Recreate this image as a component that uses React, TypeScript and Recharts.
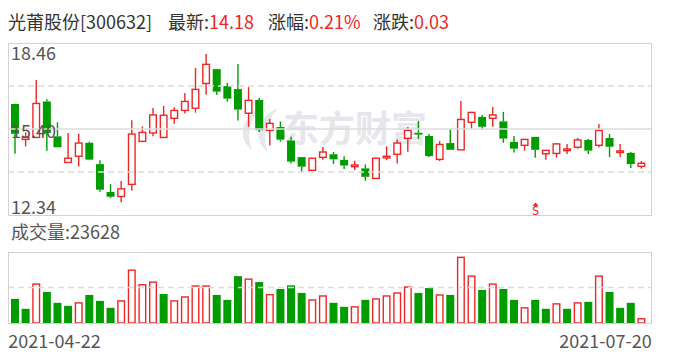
import React from 'react';
import { ComposedChart, Bar, XAxis, YAxis, ReferenceLine, ReferenceDot } from 'recharts';

// ---------- data ----------
const stockName = '光莆股份';
const stockCode = '300632';
const latestPrice = '14.18';
const changePct = '0.21%';
const changeAmt = '0.03';

const dates = [
  '2021-04-22', '2021-04-23', '2021-04-26', '2021-04-27', '2021-04-28', '2021-04-29', '2021-04-30',
  '2021-05-06', '2021-05-07', '2021-05-10', '2021-05-11', '2021-05-12', '2021-05-13', '2021-05-14',
  '2021-05-17', '2021-05-18', '2021-05-19', '2021-05-20', '2021-05-21', '2021-05-24', '2021-05-25',
  '2021-05-26', '2021-05-27', '2021-05-28', '2021-05-31', '2021-06-01', '2021-06-02', '2021-06-03',
  '2021-06-04', '2021-06-07', '2021-06-08', '2021-06-09', '2021-06-10', '2021-06-11', '2021-06-15',
  '2021-06-16', '2021-06-17', '2021-06-18', '2021-06-21', '2021-06-22', '2021-06-23', '2021-06-24',
  '2021-06-25', '2021-06-28', '2021-06-29', '2021-06-30', '2021-07-01', '2021-07-02', '2021-07-05',
  '2021-07-06', '2021-07-07', '2021-07-08', '2021-07-09', '2021-07-12', '2021-07-13', '2021-07-14',
  '2021-07-15', '2021-07-16', '2021-07-19', '2021-07-20',
];

const opens = [
  16.29, 15.03, 15.10, 16.38, 15.14, 14.21, 14.43, 14.91, 14.15, 13.16,
  13.00, 13.43, 14.96, 15.26, 15.10, 15.78, 16.06, 16.14, 17.02, 17.53,
  16.93, 16.82, 15.96, 16.43, 15.35, 15.47, 14.99, 14.40, 13.93, 14.39,
  14.50, 14.30, 14.06, 14.00, 13.64, 14.37, 14.50, 15.07, 15.26, 15.15,
  14.32, 14.90, 14.66, 15.64, 15.83, 15.78, 15.67, 14.94, 14.82, 15.12,
  14.52, 14.53, 14.63, 14.75, 15.01, 14.82, 15.08, 14.59, 14.55, 14.07,
];
const highs = [
  16.30, 15.28, 17.14, 16.46, 15.64, 15.26, 15.23, 14.95, 14.29, 13.44,
  13.55, 15.71, 15.49, 16.15, 16.22, 16.17, 16.68, 17.57, 18.07, 17.53,
  17.04, 17.71, 16.89, 16.50, 15.76, 15.67, 15.12, 14.40, 14.36, 14.76,
  14.58, 14.43, 14.27, 14.14, 14.36, 14.78, 15.03, 15.47, 15.69, 15.22,
  14.97, 15.40, 16.40, 15.99, 15.90, 16.18, 16.01, 15.15, 15.03, 15.12,
  14.64, 14.90, 14.87, 15.08, 15.04, 15.58, 15.22, 14.87, 14.58, 14.26,
];
const lows = [
  14.52, 14.78, 15.10, 14.63, 14.75, 14.21, 14.07, 14.29, 13.17, 12.94,
  12.79, 13.21, 14.93, 15.14, 15.10, 15.59, 15.95, 15.98, 16.62, 16.62,
  16.37, 15.70, 15.48, 15.29, 14.81, 14.95, 14.17, 13.85, 13.89, 14.31,
  14.15, 13.98, 13.94, 13.56, 13.64, 14.29, 14.17, 14.59, 15.04, 14.40,
  14.26, 14.66, 14.66, 15.41, 15.38, 15.48, 14.91, 14.56, 14.63, 14.38,
  14.31, 14.38, 14.51, 14.70, 14.51, 14.74, 14.40, 14.40, 14.01, 13.99,
];
const closes = [
  15.23, 15.10, 16.31, 15.26, 14.75, 14.36, 14.90, 14.31, 13.24, 12.99,
  13.27, 15.22, 15.28, 15.90, 15.89, 16.06, 16.38, 16.81, 17.70, 16.73,
  16.48, 16.09, 16.42, 15.36, 15.60, 15.02, 14.24, 14.06, 14.36, 14.58,
  14.32, 14.10, 14.12, 13.70, 14.36, 14.43, 14.90, 15.35, 15.23, 14.44,
  14.85, 14.66, 15.74, 15.99, 15.48, 15.90, 15.06, 14.70, 15.03, 14.66,
  14.64, 14.87, 14.69, 15.01, 14.63, 15.35, 14.77, 14.62, 14.15, 14.18,
];

const volumes = [
  115400, 68000, 189700, 148600, 96500, 82200, 99600, 134400, 105900, 72700,
  109100, 256200, 186600, 199200, 139100, 109100, 128100, 180300, 180300, 134400,
  110700, 224500, 213400, 196000, 139100, 162800, 180300, 143900, 113800, 132800,
  96500, 77500, 80600, 110700, 118600, 132800, 147000, 175500, 143900, 167600,
  137500, 134400, 317800, 227700, 158100, 189700, 162800, 110700, 75900, 110700,
  68000, 94900, 68000, 99600, 101200, 227700, 148600, 72700, 96500, 23628,
];
// 1 = close above previous close (red hollow bar), 0 = below (green bar)
const volumeUp = [
  0, 0, 1, 0, 0, 0, 1, 0, 0, 0,
  1, 1, 1, 1, 0, 1, 1, 1, 1, 0,
  0, 0, 1, 0, 1, 0, 0, 0, 1, 1,
  0, 0, 1, 0, 1, 1, 1, 1, 0, 0,
  1, 0, 1, 1, 0, 1, 0, 0, 1, 0,
  0, 1, 0, 1, 0, 1, 0, 0, 0, 1,
];

const priceMin = 12.34;
const priceMax = 18.46;
const priceMid = 15.40;
const priceTicks = [priceMin, priceMid, priceMax];
const volumeMax = 340000;
const signals = [{ date: '2021-07-06', label: 'S' }];

// ---------- styling ----------
const RED = '#f02626';
const GREEN = '#009c00';
const GRID = '#dcdcdc';
const FRAME = '#d2d2d2';
const LABEL = '#555555';
const FONT = "'Noto Sans CJK SC', 'Microsoft YaHei', sans-serif";

const rows = dates.map((d, i) => ({
  date: d,
  open: opens[i],
  high: highs[i],
  low: lows[i],
  close: closes[i],
  volume: volumes[i],
  up: volumeUp[i] === 1,
}));

function CandleShape(props: any) {
  const { x, y, width, height, payload } = props;
  if (!payload || x == null) return null;
  const { open, close, high, low } = payload;
  const top = Math.min(y, y + height);
  const h = Math.abs(height);
  const k = h / (high - low);
  const py = (v: number) => top + (high - v) * k;
  const cx = x + width / 2;
  const up = close >= open;
  const c = up ? RED : GREEN;
  const bTop = py(Math.max(open, close));
  const bBot = py(Math.min(open, close));
  const bh = Math.max(bBot - bTop, 1.6);
  return (
    <g>
      <line x1={cx} x2={cx} y1={py(high)} y2={bTop} stroke={c} strokeWidth={1.4} />
      <line x1={cx} x2={cx} y1={bTop + bh} y2={py(low)} stroke={c} strokeWidth={1.4} />
      {up ? (
        <rect x={x + 0.7} y={bTop} width={width - 1.4} height={bh} fill="#fff" stroke={c} strokeWidth={1.4} />
      ) : (
        <rect x={x} y={bTop} width={width} height={bh} fill={c} />
      )}
    </g>
  );
}

function VolumeShape(props: any) {
  const { x, y, width, height, payload } = props;
  if (!payload || x == null) return null;
  const top = Math.min(y, y + height);
  const h = Math.abs(height);
  if (payload.up) {
    return <rect x={x + 0.7} y={top + 0.7} width={width - 1.4} height={Math.max(h - 0.7, 0)} fill="#fff" stroke={RED} strokeWidth={1.4} />;
  }
  return <rect x={x} y={top} width={width} height={h} fill={GREEN} />;
}

function PriceTick(props: any) {
  const { y, payload } = props;
  const v = Number(payload.value);
  let dy = 9;
  if (Math.abs(v - priceMax) < 1e-6) dy = 17;
  else if (Math.abs(v - priceMin) < 1e-6) dy = -1;
  return (
    <text x={11} y={y + dy} fill={LABEL} fontSize={18} fontFamily={FONT} textAnchor="start">
      {v.toFixed(2)}
    </text>
  );
}

function DateTick(props: any) {
  const { x, y, payload } = props;
  const isFirst = payload.value === dates[0];
  return (
    <text
      x={isFirst ? x - 7 : x + 10}
      y={y + 25}
      fill={LABEL}
      fontSize={18}
      fontFamily={FONT}
      textAnchor={isFirst ? 'start' : 'end'}
    >
      {payload.value}
    </text>
  );
}

function SignalMark(props: any) {
  const { cx, cy } = props;
  return (
    <g>
      <path d={`M${cx - 3},${cy - 9} L${cx},${cy - 12.5} L${cx + 3},${cy - 9} Z`} fill={RED} />
      <text x={cx} y={cy - 0.5} fill={RED} fontSize={12} fontFamily="'DejaVu Sans Mono', monospace" textAnchor="middle">
        {signals[0].label}
      </text>
    </g>
  );
}

export default function App() {
  const q = (priceMax - priceMin) / 4;
  return (
    <div style={{ position: 'fixed', left: 0, top: 0, width: 688, height: 360, background: '#fff', fontFamily: FONT }}>
      {/* watermark */}
      <svg width={688} height={360} style={{ position: 'absolute', left: 0, top: 0 }}>
        <path d="M258,110 C240,120 238,140 252,150 C247,138 248,124 258,110 Z" fill="#e6e6eb" />
        <path d="M278,108 C256,118 252,140 268,152 C262,138 264,124 278,108 Z" fill="#e6e6eb" />
        <text x={283} y={142} fontSize={36} fontWeight={700} fill="#e6e6eb" fontFamily={FONT}>东方财富</text>
      </svg>

      <div style={{ position: 'absolute', left: 0, top: 0 }}>
        <ComposedChart width={688} height={230} data={rows} margin={{ top: 43, right: 37, bottom: 15, left: 8 }}>
          <XAxis dataKey="date" hide padding={{ left: 2, right: 4 }} />
          <YAxis
            type="number"
            domain={[priceMin, priceMax]}
            ticks={priceTicks}
            interval={0}
            width={60}
            mirror
            axisLine={false}
            tickLine={false}
            tick={(p: any) => <PriceTick {...p} />}
            allowDataOverflow
          />
          <ReferenceLine y={priceMid} stroke={GRID} strokeWidth={1.5} />
          <ReferenceLine y={priceMax - q} stroke={GRID} strokeWidth={1.5} strokeDasharray="6 4" />
          <ReferenceLine y={priceMin + q} stroke={GRID} strokeWidth={1.5} strokeDasharray="6 4" />
          <Bar dataKey={(d: any) => [d.low, d.high]} barSize={8} isAnimationActive={false} shape={(p: any) => <CandleShape {...p} />} />
          {signals.map((s) => (
            <ReferenceDot key={s.date} x={s.date} y={priceMin} shape={(p: any) => <SignalMark {...p} />} />
          ))}
        </ComposedChart>
      </div>

      <div style={{ position: 'absolute', left: 0, top: 240 }}>
        <ComposedChart width={688} height={120} data={rows} margin={{ top: 12, right: 37, bottom: 7, left: 8 }}>
          <XAxis
            dataKey="date"
            padding={{ left: 2, right: 4 }}
            ticks={[dates[0], dates[dates.length - 1]]}
            interval={0}
            axisLine={false}
            tickLine={false}
            tickSize={0}
            tickMargin={0}
            height={30}
            tick={<DateTick />}
          />
          <YAxis hide domain={[0, volumeMax]} />
          <ReferenceLine y={volumeMax / 2} stroke={GRID} strokeWidth={1.5} strokeDasharray="6 4" />
          <Bar dataKey="volume" barSize={8} isAnimationActive={false} shape={(p: any) => <VolumeShape {...p} />} />
        </ComposedChart>
      </div>

      {/* frames */}
      <div style={{ position: 'absolute', left: 8, top: 43, width: 644, height: 173, boxSizing: 'border-box', border: `1.5px solid ${FRAME}` }} />
      <div style={{ position: 'absolute', left: 8, top: 252, width: 644, height: 72, boxSizing: 'border-box', border: `1.5px solid ${FRAME}` }} />

      {/* texts */}
      <svg width={688} height={360} style={{ position: 'absolute', left: 0, top: 0, pointerEvents: 'none' }}>
        <text x={8} y={29} fontSize={18} fontFamily={FONT} fill="#333">{`${stockName}[${stockCode}]`}</text>
        <text x={168} y={29} fontSize={18} fontFamily={FONT} fill="#333">
          最新:<tspan fill={RED}>{latestPrice}</tspan>
        </text>
        <text x={268} y={29} fontSize={18} fontFamily={FONT} fill="#333">
          涨幅:<tspan fill={RED}>{changePct}</tspan>
        </text>
        <text x={373} y={29} fontSize={18} fontFamily={FONT} fill="#333">
          涨跌:<tspan fill={RED}>{changeAmt}</tspan>
        </text>
        <text x={11} y={239} fontSize={18} fontFamily={FONT} fill={LABEL}>{`成交量:${volumes[volumes.length - 1]}`}</text>
      </svg>
    </div>
  );
}
